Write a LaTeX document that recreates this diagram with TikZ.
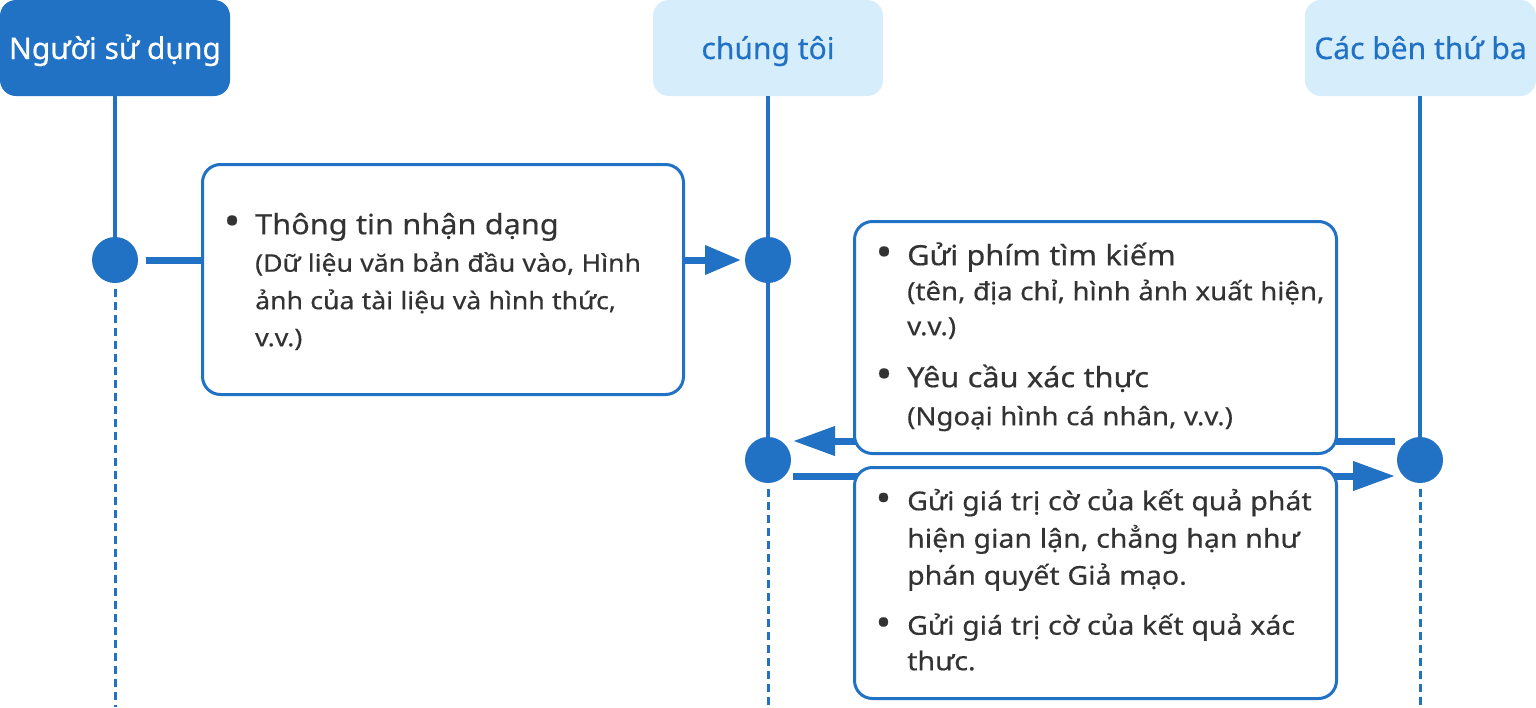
\documentclass[tikz,border=0pt]{standalone}
\usepackage{fontspec}
\usepackage{graphicx}
\setmainfont[FakeStretch=1.1,FakeBold=0.4]{Noto Sans}
\newfontfamily\hdrfont[FakeBold=0.4]{Noto Sans}
\usetikzlibrary{arrows.meta}
\definecolor{mblue}{HTML}{2171C5}
\definecolor{lblue}{HTML}{D6EDFC}
\definecolor{tgray}{HTML}{333333}
\newcommand\bul{\makebox[30pt][l]{\hspace*{-1.5pt}\raisebox{-1pt}{\scalebox{1.45}{\textbullet}}}}
\newcommand\ind{\hspace*{30pt}}
% \Ln{size}{distance from previous baseline}{text}
\newcommand\Ln[3]{{\fontsize{#1}{#2}\selectfont\spaceskip=.3em #3\par}}
\newcommand\Top{\rule{0pt}{30pt}}
\tikzset{
  hdr/.style={rounded corners=16pt, minimum width=230pt, minimum height=96pt, inner sep=0pt, text height=30pt, text depth=8pt, font=\hdrfont\fontsize{30}{34}\selectfont},
  dot/.style={circle, fill=mblue, minimum size=46pt, inner sep=0pt},
  life/.style={draw=mblue, line width=3.5pt},
  dashline/.style={draw=mblue, line width=3pt, dash pattern=on 8pt off 5pt},
  msgbox/.style={draw=mblue, line width=3pt, fill=white, rounded corners=18pt, minimum width=481pt, inner sep=0pt, anchor=north west},
  msgtxt/.style={inner sep=0pt, anchor=north west, text width=470pt, align=left, text=tgray, execute at begin node={\setlength\parskip{0pt}\setlength\parindent{0pt}\lineskiplimit=-20pt}},
  arr/.style={draw=mblue, line width=7pt, -{Triangle[length=36pt,width=28pt]}},
}
\begin{document}
\begin{tikzpicture}[x=1pt,y=-1pt]
\useasboundingbox (0,0) rectangle (1536,707);
% headers
\node[hdr, fill=mblue, text=white] (u) at (115,48) {Người sử dụng};
\node[hdr, fill=lblue, text=mblue] (w) at (768,48) {chúng tôi};
\node[hdr, fill=lblue, text=mblue, minimum width=231pt] (t) at (1420.5,48) {Các bên thứ ba};
% dots
\node[dot] (ud) at (115,260) {};
\node[dot] (wd1) at (768,260) {};
\node[dot] (wd2) at (768,460) {};
\node[dot] (td) at (1420,460) {};
% end coordinates
\coordinate (ue) at (115,707);
\coordinate (we) at (768,707);
\coordinate (te) at (1420,707);
% lifelines
\draw[life] (u.south) -- (ud);
\draw[life] (w.south) -- (wd2);
\draw[life] (t.south) ++(-0.5,0) -- (td);
\draw[dashline] ([yshift=-6pt]ud.south) -- (ue);
\draw[dashline] ([yshift=-6pt]wd2.south) -- (we);
\draw[dashline] ([yshift=-6pt]td.south) -- (te);
% arrows
\coordinate (a1s) at (146,260);
\coordinate (a1e) at (741,260);
\coordinate (a2s) at (1395,441);
\coordinate (a2e) at (793,441);
\coordinate (a3s) at (793,476);
\coordinate (a3e) at (1395,476);
\draw[arr] (a1s) -- (a1e);
\draw[arr, -{Triangle[length=42pt,width=28pt]}] (a2s) -- (a2e);
\draw[arr, -{Triangle[length=42pt,width=28pt]}] (a3s) -- (a3e);
% message boxes
\node[msgbox, minimum height=230pt] (b1) at (201,163) {};
\node[msgbox, minimum width=482pt, minimum height=232pt] (b2) at (853,220) {};
\node[msgbox, minimum width=482pt, minimum height=231pt] (b3) at (853,466) {};
% texts (first baseline = y + 30)
\node[msgtxt] (t1) at (225,204) {%
  \Ln{27.9}{30}{\Top\bul Thông tin nhận dạng}%
  \Ln{24.2}{37.5}{\ind (Dữ liệu văn bản đầu vào, Hình}%
  \Ln{24.2}{37.5}{\ind ảnh của tài liệu và hình thức,}%
  \Ln{24.2}{37}{\ind v.v.)}};
\node[msgtxt] (t2) at (877,235) {%
  \Ln{27.9}{30}{\Top\bul Gửi phím tìm kiếm}%
  \Ln{25.1}{35}{\ind (tên, địa chỉ, hình ảnh xuất hiện,}%
  \Ln{25.1}{35}{\ind v.v.)}%
  \Ln{27.9}{52}{\bul Yêu cầu xác thực}%
  \Ln{25.1}{38}{\ind (Ngoại hình cá nhân, v.v.)}};
\node[msgtxt] (t3) at (877,480) {%
  \Ln{25.9}{30}{\Top\bul Gửi giá trị cờ của kết quả phát}%
  \Ln{25.9}{37.5}{\ind hiện gian lận, chẳng hạn như}%
  \Ln{25.9}{37}{\ind phán quyết Giả mạo.}%
  \Ln{25.9}{50}{\bul Gửi giá trị cờ của kết quả xác}%
  \Ln{25.9}{35.5}{\ind thưc.}};
\end{tikzpicture}
\end{document}
